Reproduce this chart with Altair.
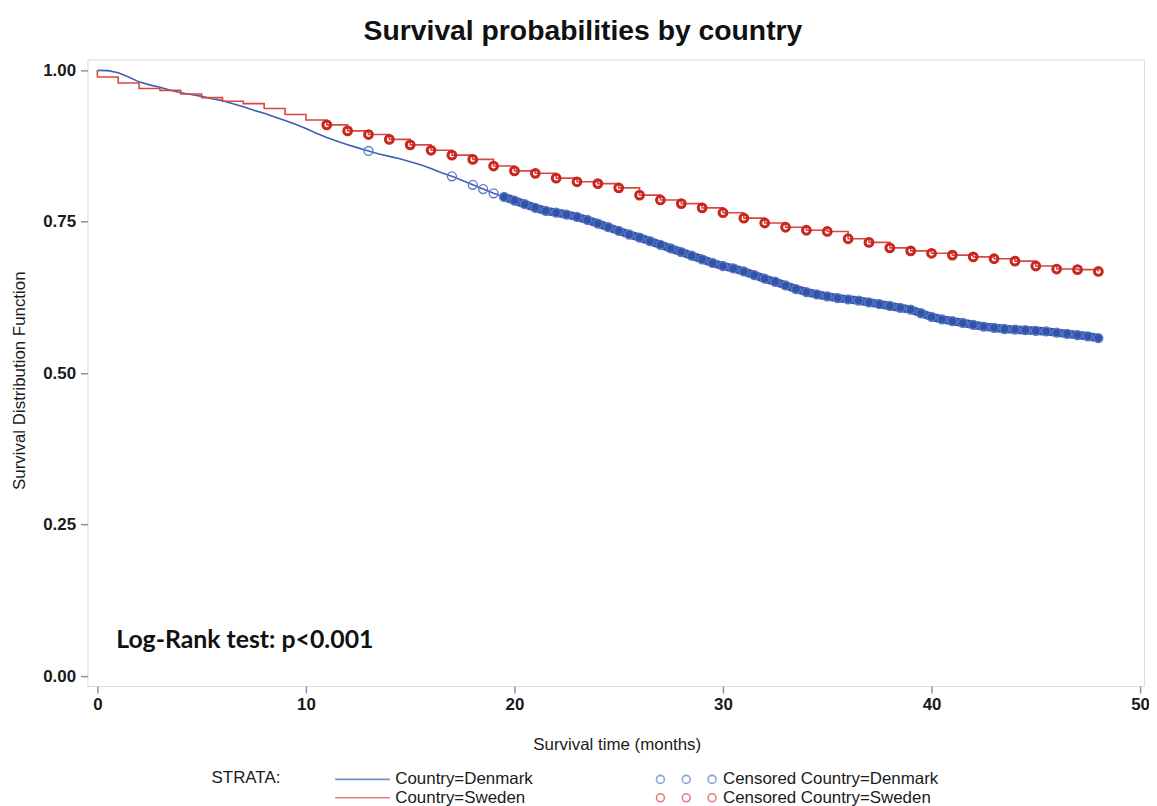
import altair as alt
import pandas as pd

# ---------------- data ----------------
dk_t = [0, 0.5, 1, 1.5, 2, 2.5, 3, 3.5, 4, 4.5, 5, 5.5, 6, 6.5, 7, 7.5, 8, 8.5, 9, 9.5,
        10, 10.5, 11, 11.5, 12, 12.5, 13, 13.5, 14, 14.5, 15, 15.5, 16, 16.5, 17, 17.5,
        18, 18.5, 19, 19.5, 20, 20.5, 21, 21.5, 22, 22.5, 23, 23.5, 24, 24.5, 25, 25.5,
        26, 26.5, 27, 27.5, 28, 28.5, 29, 29.5, 30, 30.5, 31, 31.5, 32, 32.5, 33, 33.5,
        34, 34.5, 35, 35.5, 36, 36.5, 37, 37.5, 38, 38.5, 39, 39.5, 40, 40.5, 41, 41.5,
        42, 42.5, 43, 43.5, 44, 44.5, 45, 45.5, 46, 46.5, 47, 47.5, 48]
dk_s = [1.000, 0.9995, 0.996, 0.989, 0.981, 0.976, 0.972, 0.967, 0.963, 0.960,
        0.957, 0.953, 0.950, 0.945, 0.940, 0.934, 0.929, 0.923, 0.917, 0.911,
        0.904, 0.896, 0.889, 0.883, 0.877, 0.872, 0.867, 0.862, 0.858, 0.854,
        0.849, 0.844, 0.838, 0.831, 0.825, 0.818, 0.811, 0.804, 0.797, 0.791,
        0.785, 0.779, 0.773, 0.768, 0.765, 0.762, 0.758, 0.753, 0.747, 0.741,
        0.735, 0.729, 0.724, 0.718, 0.712, 0.706, 0.700, 0.694, 0.688, 0.682,
        0.677, 0.673, 0.668, 0.662, 0.656, 0.651, 0.645, 0.639, 0.634, 0.630,
        0.627, 0.624, 0.622, 0.620, 0.617, 0.614, 0.611, 0.608, 0.605, 0.599,
        0.593, 0.589, 0.586, 0.583, 0.580, 0.577, 0.575, 0.573, 0.572, 0.571,
        0.570, 0.569, 0.567, 0.565, 0.563, 0.561, 0.558]

se_t = [0, 0, 1, 2, 3, 4, 5, 6, 7, 8, 9, 10, 11, 12, 13, 14, 15, 16, 17, 18, 19, 20,
        21, 22, 23, 24, 25, 26, 27, 28, 29, 30, 31, 32, 33, 34, 35, 36, 37, 38, 39, 40,
        41, 42, 43, 44, 45, 46, 47, 48]
se_s = [1.000, 0.989, 0.979, 0.970, 0.967, 0.961, 0.955, 0.949, 0.945, 0.937,
        0.927, 0.918, 0.910, 0.900, 0.894, 0.886, 0.877, 0.868, 0.860, 0.853,
        0.842, 0.834, 0.830, 0.822, 0.816, 0.813, 0.806, 0.794, 0.786, 0.780,
        0.773, 0.765, 0.756, 0.748, 0.741, 0.736, 0.734, 0.722, 0.716, 0.707,
        0.702, 0.698, 0.695, 0.692, 0.689, 0.685, 0.677, 0.672, 0.671, 0.668]

x_ticks = [0, 10, 20, 30, 40, 50]
y_ticks = [0.0, 0.25, 0.5, 0.75, 1.0]

# legend entries (the legend grid is filled column by column)
legend_labels = ["Country=Denmark", "Country=Sweden",
                 "Censored Country=Denmark", "Censored Country=Sweden"]

ann_text = ["Log-Rank test: p<0.001"]
ann_t = [0.9]
ann_s = [0.059]

# ---------------- styling ----------------
BLUE = "#3f5fb3"
BAND = "#3254a8"
LBLUE = "#5b7bca"
RED = "#d9473f"
DRED = "#c7271f"
FRAME = "#a3acb6"
FONT = "Liberation Sans"

LINE_PATH = "M-3.44,0L3.44,0"
CIRC3 = ("M-4.25,0a0.5,0.5 0 1,0 1,0a0.5,0.5 0 1,0 -1,0"
         "M-1,0a0.5,0.5 0 1,0 1,0a0.5,0.5 0 1,0 -1,0"
         "M2.25,0a0.5,0.5 0 1,0 1,0a0.5,0.5 0 1,0 -1,0")

dk = pd.DataFrame({"t": dk_t, "s": dk_s})
se = pd.DataFrame({"t": se_t, "s": se_s})
ann = pd.DataFrame({"t": ann_t, "s": ann_s, "txt": ann_text})
leg = pd.DataFrame({"k": legend_labels})

x_enc = alt.X(
    "t:Q",
    scale=alt.Scale(domain=[-0.476, 50.19], nice=False, zero=False),
    axis=alt.Axis(values=x_ticks, format="d", title="Survival time (months)",
                  grid=False, domain=False, tickColor="#8a949e", tickSize=7,
                  tickWidth=1.5, labelPadding=4, labelFont=FONT, labelFontSize=17,
                  labelFontWeight="bold", labelColor="#1a1a1a", titleFont=FONT,
                  titleFontSize=17, titleFontWeight="normal", titleColor="#1a1a1a",
                  titleX=533, titleY=59, titleBaseline="middle", titleAlign="center"),
)
y_enc = alt.Y(
    "s:Q",
    scale=alt.Scale(domain=[-0.0164, 1.018], nice=False, zero=False),
    axis=alt.Axis(values=y_ticks, format=".2f", title="Survival Distribution Function",
                  grid=False, domain=False, tickColor="#8a949e", tickSize=7,
                  tickWidth=1.5, labelPadding=5, labelFont=FONT, labelFontSize=17,
                  labelFontWeight="bold", labelColor="#1a1a1a", titleFont=FONT,
                  titleFontSize=17, titleFontWeight="normal", titleColor="#1a1a1a",
                  titleX=-68, titleY=323, titleAngle=270, titleBaseline="middle",
                  titleAlign="center"),
)

dk_line = alt.Chart(dk).mark_line(color=BLUE, strokeWidth=1.6).encode(x=x_enc, y=y_enc)
dk_band = (alt.Chart(dk).transform_filter("datum.t >= 19.5")
           .mark_line(color=BAND, strokeWidth=8.5, strokeCap="round", strokeJoin="round")
           .encode(x=x_enc, y=y_enc))
dk_cens = (alt.Chart(dk)
           .transform_filter("datum.t >= 18 || datum.t == 13 || datum.t == 17")
           .mark_point(shape="circle", filled=False, color=LBLUE, size=80, strokeWidth=1.4,
                       opacity=1)
           .encode(x=x_enc, y=y_enc))
se_line = (alt.Chart(se).mark_line(interpolate="step-after", color=RED, strokeWidth=1.6)
           .encode(x=x_enc, y=y_enc))
se_cens = (alt.Chart(se).transform_filter("datum.t >= 11")
           .mark_point(shape="circle", filled=False, color=DRED, size=62, strokeWidth=3,
                       opacity=1)
           .encode(x=x_enc, y=y_enc))
ann_layer = (alt.Chart(ann)
             .mark_text(align="left", baseline="middle", font="Lato", fontWeight="bold",
                        fontSize=25, color="#111111")
             .encode(x=x_enc, y=y_enc, text="txt:N"))

legend_def = alt.Legend(
    title="STRATA:", orient="none", legendX=125, legendY=716, columns=2,
    titleOrient="left", titleAnchor="start", titleBaseline="top", titlePadding=73,
    titleFont=FONT, titleFontSize=17, titleFontWeight="normal", titleColor="#1a1a1a",
    labelFont=FONT, labelFontSize=17, labelColor="#1a1a1a", labelOffset=24,
    labelLimit=400, symbolSize=256, symbolStrokeWidth=1.6, columnPadding=120,
    rowPadding=1.5, padding=0,
)
leg_layer = (alt.Chart(leg)
             .mark_point(filled=False, clip=True, strokeWidth=1.6)
             .encode(
                 x=alt.value(-200), y=alt.value(-200),
                 color=alt.Color("k:N", sort=None,
                                 scale=alt.Scale(domain=legend_labels,
                                                 range=[BLUE, RED, LBLUE, RED]),
                                 legend=legend_def),
                 shape=alt.Shape("k:N", sort=None,
                                 scale=alt.Scale(domain=legend_labels,
                                                 range=[LINE_PATH, LINE_PATH, CIRC3, CIRC3]),
                                 legend=legend_def),
             ))

chart = (
    alt.layer(dk_line, dk_band, dk_cens, se_line, se_cens, ann_layer, leg_layer)
    .properties(
        width=1064, height=631,
        title=alt.TitleParams("Survival probabilities by country", font=FONT, fontSize=28.5,
                              fontWeight="bold", color="#111111", anchor="middle",
                              dx=-33, offset=14),
        autosize=alt.AutoSizeParams(type="none"),
        padding={"left": 80, "top": 49, "right": 5, "bottom": 118},
    )
    .configure_view(stroke=FRAME, strokeWidth=1.6)
    .configure(background="white")
)

chart.save("out.html", embed_options={"renderer": "svg", "actions": False})
